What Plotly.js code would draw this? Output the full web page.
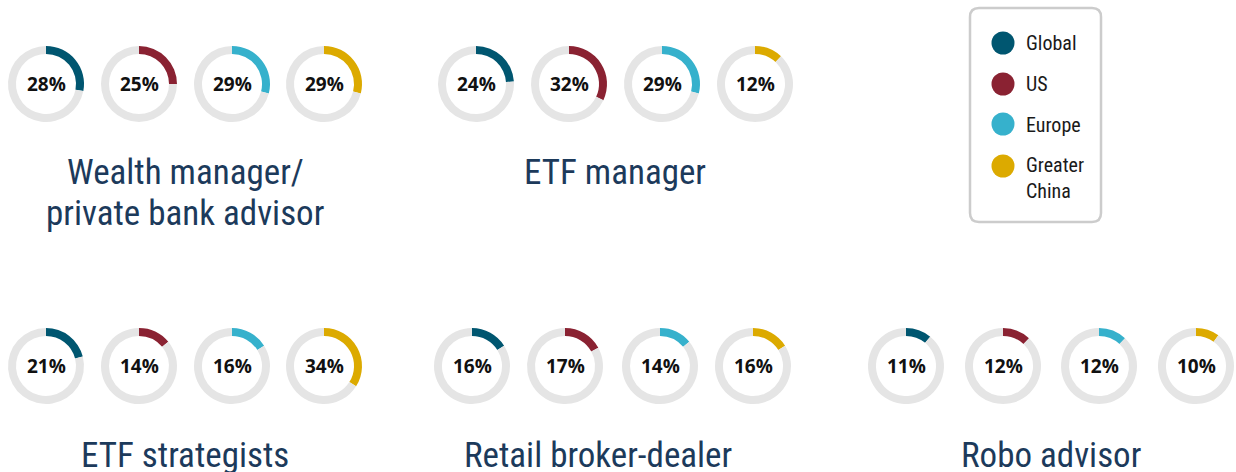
<!DOCTYPE html>
<html><head><meta charset="utf-8">
<script src="https://cdn.plot.ly/plotly-3.0.1.min.js"></script>
<style>body{margin:0;background:#fff;}</style>
</head><body><div id="chart" style="width:1236px;height:472px;"></div>
<script>
// ---- data ----
const regions = ['Global', 'US', 'Europe', 'Greater China'];
const groupNames = ['Wealth manager/<br>private bank advisor', 'ETF manager', 'ETF strategists', 'Retail broker-dealer', 'Robo advisor'];
const wealthManager = [28, 25, 29, 29];
const etfManager = [24, 32, 29, 12];
const etfStrategists = [21, 14, 16, 34];
const retailBrokerDealer = [16, 17, 14, 16];
const roboAdvisor = [11, 12, 12, 10];
const groupValues = [wealthManager, etfManager, etfStrategists, retailBrokerDealer, roboAdvisor];

// ---- style / layout ----
const regionColors = ['#005670', '#8a2232', '#36b1cc', '#dcaa00'];
const ringGray = '#e5e5e5';
const W = 1236, H = 472, R = 38;
const groupCentersX = [
  [46, 139, 232, 324],
  [476, 569, 662, 755],
  [46, 139, 232, 324],
  [472, 565, 660, 753],
  [906, 1003, 1099, 1196]
];
const groupCenterY = [84, 84, 366, 366, 366];
const titleX = [185, 615, 185, 598, 1051];
const titleY = [172, 172, 455, 455, 455];
const titleLineGap = 41;

const traces = [];
const annotations = [];
groupValues.forEach((vals, g) => {
  vals.forEach((v, i) => {
    const cx = groupCentersX[g][i], cy = groupCenterY[g];
    traces.push({
      type: 'pie',
      values: [v, 100 - v],
      labels: [regions[i], 'Other'],
      marker: {colors: [regionColors[i], ringGray], line: {width: 0}},
      hole: 0.79,
      sort: false,
      direction: 'clockwise',
      rotation: 0,
      textinfo: 'none',
      hoverinfo: 'label+value',
      showlegend: false,
      domain: {x: [(cx - R) / W, (cx + R) / W], y: [1 - (cy + R) / H, 1 - (cy - R) / H]}
    });
    annotations.push({
      x: cx, y: cy, xref: 'x', yref: 'y', showarrow: false,
      text: v + '%', xanchor: 'center', yanchor: 'middle',
      font: {family: 'Open Sans', size: 19, color: '#111', weight: 700}
    });
  });
  groupNames[g].split('<br>').forEach((line, k) => {
    annotations.push({
      x: titleX[g], y: titleY[g] + k * titleLineGap, xref: 'x', yref: 'y', showarrow: false,
      text: line, xanchor: 'center', yanchor: 'middle', align: 'center',
      font: {family: 'Roboto Condensed', size: 35, color: '#1c3a5b'}
    });
  });
});

// legend (drawn)
const legendY = [43, 84, 124, 166];
const legendLabelY = [43, 84, 125, 178];
const legendLabels = ['Global', 'US', 'Europe', 'Greater<br>China'];
const shapes = [];
const bx0 = 970, bx1 = 1101, by0 = 8, by1 = 222, br = 9;
shapes.push({
  type: 'path', xref: 'x', yref: 'y',
  path: `M${bx0 + br},${by0} L${bx1 - br},${by0} Q${bx1},${by0} ${bx1},${by0 + br} L${bx1},${by1 - br} Q${bx1},${by1} ${bx1 - br},${by1} L${bx0 + br},${by1} Q${bx0},${by1} ${bx0},${by1 - br} L${bx0},${by0 + br} Q${bx0},${by0} ${bx0 + br},${by0} Z`,
  line: {color: '#cccccc', width: 2.5}, fillcolor: 'rgba(0,0,0,0)'
});
regions.forEach((r, i) => {
  const cy = legendY[i], cx = 1003, rr = 11.5;
  shapes.push({type: 'circle', xref: 'x', yref: 'y', x0: cx - rr, x1: cx + rr, y0: cy - rr, y1: cy + rr,
    fillcolor: regionColors[i], line: {width: 0}});
  annotations.push({
    x: 1024, y: legendLabelY[i], xref: 'x', yref: 'y', showarrow: false,
    text: legendLabels[i], xanchor: 'left', yanchor: 'middle', align: 'left',
    font: {family: 'Roboto Condensed', size: 20, color: '#1a1a1a'}
  });
});

const layout = {
  width: W, height: H,
  margin: {l: 0, r: 0, t: 0, b: 0},
  paper_bgcolor: '#ffffff', plot_bgcolor: 'rgba(0,0,0,0)',
  xaxis: {range: [0, W], visible: false, fixedrange: true},
  yaxis: {range: [H, 0], visible: false, fixedrange: true},
  showlegend: false,
  annotations: annotations,
  shapes: shapes
};
Plotly.newPlot('chart', traces, layout, {displayModeBar: false, staticPlot: true});
</script></body></html>
